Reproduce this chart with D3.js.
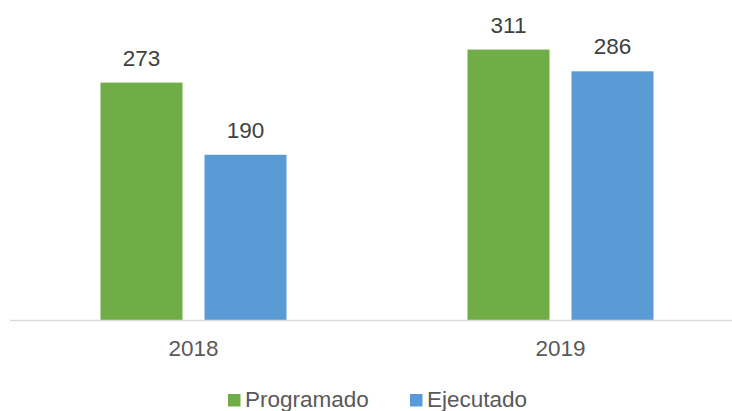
<!DOCTYPE html>
<html>
<head>
<meta charset="utf-8">
<script src="https://cdn.jsdelivr.net/npm/d3@7"></script>
<style>
  body { margin: 0; background: #fff; }
  svg { display: block; font-family: "Liberation Sans", Arial, sans-serif; }
</style>
</head>
<body>
<svg id="chart" width="732" height="411"></svg>
<script>
var years = ["2018", "2019"];
var series = ["Programado", "Ejecutado"];
var programado = [273, 311];
var ejecutado = [190, 286];
var colors = ["#70AD47", "#5B9BD5"];

var width = 732,
    height = 411,
    baseY = 320;

var svg = d3.select("#chart");

var x0 = d3.scaleBand()
    .domain(years)
    .range([10, 744]);

var x1 = d3.scaleBand()
    .domain(series)
    .range([0, x0.bandwidth()])
    .paddingInner(0.2115)
    .paddingOuter(0.87);

var y = d3.scaleLinear()
    .domain([0, 368])
    .range([baseY, 0]);

var rows = [];
years.forEach((yr, i) => {
    rows.push({year: yr, s: series[0], v: programado[i], c: colors[0]});
    rows.push({year: yr, s: series[1], v: ejecutado[i], c: colors[1]});
});

svg.selectAll("rect.bar").data(rows).enter().append("rect")
    .attr("class", "bar")
    .attr("x", d => x0(d.year) + x1(d.s))
    .attr("y", d => y(d.v))
    .attr("width", x1.bandwidth())
    .attr("height", d => y(0) - y(d.v))
    .attr("fill", d => d.c);

svg.selectAll("text.val").data(rows).enter().append("text")
    .attr("class", "val")
    .attr("x", d => x0(d.year) + x1(d.s) + x1.bandwidth() / 2)
    .attr("y", d => y(d.v) - 17)
    .attr("text-anchor", "middle")
    .attr("font-size", 22.5)
    .attr("fill", "#404040")
    .text(d => d.v);

// x axis, no domain line (drawn below in gray)
var xAxis = d3.axisBottom(x0).tickSize(0).tickPadding(20);
var gx = svg.append("g")
    .attr("transform", "translate(0," + baseY + ")")
    .call(xAxis);
gx.select(".domain").remove();
gx.selectAll("text")
    .attr("font-size", 22.5)
    .attr("font-family", "Liberation Sans, Arial, sans-serif")
    .attr("fill", "#595959");

svg.append("line")
    .attr("x1", 10).attr("x2", width)
    .attr("y1", baseY + 0.5).attr("y2", baseY + 0.5)
    .attr("stroke", "#d9d9d9")
    .attr("stroke-width", 1.5);

// legend
var legendX = [228, 410];
var legend = svg.selectAll("g.leg").data(series).enter().append("g")
    .attr("class", "leg")
    .attr("transform", (d, i) => "translate(" + legendX[i] + ",394)");
legend.append("rect")
    .attr("width", 12.5).attr("height", 12.5)
    .attr("fill", (d, i) => colors[i]);
legend.append("text")
    .attr("x", 17)
    .attr("y", 12.5)
    .attr("font-size", 22.5)
    .attr("fill", "#595959")
    .text(d => d);
</script>
</body>
</html>
